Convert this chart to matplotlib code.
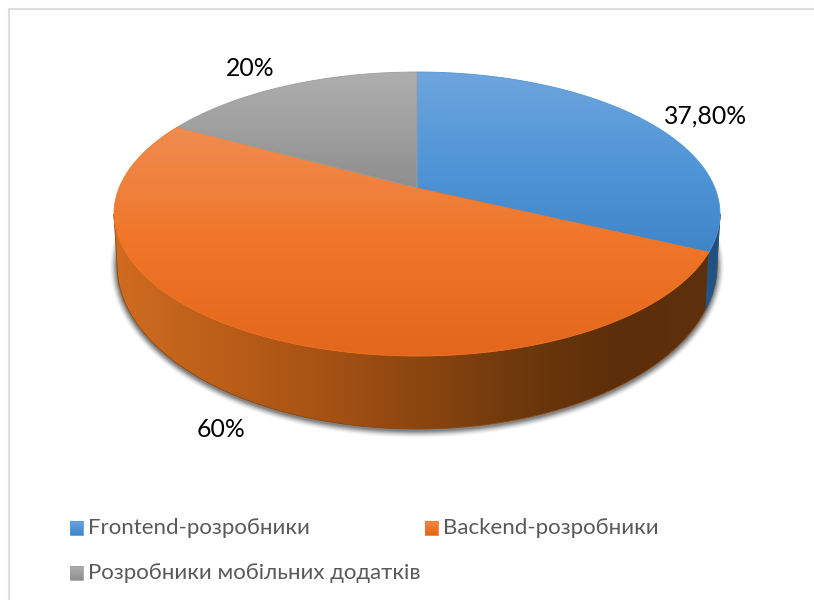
import numpy as np
import matplotlib
matplotlib.use('Agg')
import matplotlib.pyplot as plt
from matplotlib.colors import LinearSegmentedColormap
from matplotlib.patches import Polygon, Ellipse

plt.rcParams['font.family'] = ['Lato', 'Open Sans', 'DejaVu Sans']

# Data
categories = ['Frontend-розробники', 'Backend-розробники', 'Розробники мобільних додатків']
values = [37.8, 60.0, 20.0]
value_labels = ['37,80%', '60%', '20%']

# Pie geometry (pixels), the perspective moves the apex above the ellipse centre
CX, CY, RX, RY = 417, 214, 303, 142
APEX_UP = 26
K = APEX_UP / RY
BOT_CY, BOT_RX, BOT_RY = 265, 300, 164

FACE_COLORS = [('#6EA5DD', '#5196D7', '#3F85C8'),
               ('#F08C50', '#EF7628', '#E4671B'),
               ('#AEAEAE', '#9F9F9F', '#8E8E8E')]
WALL_STOPS = ['#D06C20', '#BC5F19', '#A85314', '#8C4610', '#6E390C', '#5C2E0A', '#5E300C']
BLUE_WALL = ['#1F4A73', '#24598A']


def project(theta):
    # theta clockwise from the top of the circle, mapped on the tilted pie
    u, v = np.sin(theta), np.cos(theta)
    w = 1 + K * v
    x = RX * np.sqrt(1 - K ** 2) * u / w
    y = (RY * v + APEX_UP) / w
    return CX + x, CY - y


def grad_fill(ax, verts, colors, horizontal=False, zorder=2):
    verts = np.asarray(verts)
    cmap = LinearSegmentedColormap.from_list('g', colors)
    x0, y0 = verts.min(axis=0)
    x1, y1 = verts.max(axis=0)
    ramp = np.linspace(0, 1, 256)
    arr = ramp[None, :] if horizontal else ramp[:, None]
    im = ax.imshow(arr, cmap=cmap, extent=(x0, x1, y1, y0), origin='upper',
                   aspect='auto', zorder=zorder, interpolation='bilinear')
    patch = Polygon(verts, closed=True, transform=ax.transData)
    im.set_clip_path(patch)
    # thin edge hides the jagged clip border
    ax.add_patch(Polygon(verts, closed=True, fill=False, lw=0.6,
                         ec=colors[len(colors) // 2], zorder=zorder))


fig = plt.figure(figsize=(8.14, 6.0), dpi=100)
ax = fig.add_axes([0, 0, 1, 1])
ax.axis('off')

# chart border, only top and left are inside the crop
ax.plot([8.5, 8.5, 814], [600, 8.5, 8.5], color='#DEDEDE', lw=1.5, zorder=1,
        solid_joinstyle='miter')

# soft shadow under the wall
for grow, alpha in zip([7, 6, 5, 4, 3, 2, 1], [0.04, 0.06, 0.09, 0.12, 0.16, 0.2, 0.25]):
    ax.add_patch(Ellipse((417, BOT_CY + 1.5), 2 * (BOT_RX + grow), 2 * (BOT_RY + grow),
                         fc='#404040', ec='none', alpha=alpha, zorder=1.5))

# side wall
a = np.linspace(0, np.pi, 200)
top_arc = np.column_stack([CX + RX * np.cos(a), CY + RY * np.sin(a)])
bot_arc = np.column_stack([CX + BOT_RX * np.cos(a), BOT_CY + BOT_RY * np.sin(a)])
grad_fill(ax, np.vstack([top_arc, bot_arc[::-1]]), WALL_STOPS, horizontal=True, zorder=2)

# blue part of the wall, right of the first slice end
theta1 = 2 * np.pi * values[0] / sum(values)
sx, sy = project(theta1)
a_top = np.linspace(0, np.arccos((sx - CX) / RX), 30)
a_bot = np.arccos((sx - CX) / RX) * np.linspace(1, 0, 30)
blue = np.vstack([np.column_stack([CX + RX * np.cos(a_top), CY + RY * np.sin(a_top)]),
                  np.column_stack([CX + BOT_RX * np.cos(a_bot), BOT_CY + BOT_RY * np.sin(a_bot)])])
grad_fill(ax, blue, BLUE_WALL, zorder=2.1)

# top faces
edges = np.cumsum([0] + values) / sum(values) * 2 * np.pi
apex = CX, CY - APEX_UP
for i in range(len(values)):
    t = np.linspace(edges[i], edges[i + 1], 150)
    px, py = project(t)
    verts = np.vstack([[apex], np.column_stack([px, py])])
    grad_fill(ax, verts, FACE_COLORS[i], zorder=3 + i * 0.1)

# value labels
label_pos = [(705.5, 116), (221.5, 429.5), (250.5, 69)]
for txt, (lx, ly) in zip(value_labels, label_pos):
    ax.text(lx, ly, txt, fontsize=17.8, color='black', ha='center', va='center', zorder=5)

# legend
legend_pos = [(70, 528), (425, 528), (70, 573)]
for i, (lx, ly) in enumerate(legend_pos):
    sw = [(lx, ly - 7), (lx + 13, ly - 7), (lx + 13, ly + 7), (lx, ly + 7)]
    grad_fill(ax, sw, FACE_COLORS[i], zorder=5)
    ax.text(lx + 18, ly, categories[i], fontsize=16, color='#595959',
            ha='left', va='center', zorder=5)

ax.set_xlim(0, 814)
ax.set_ylim(600, 0)
fig.savefig('out.png', dpi=100)
